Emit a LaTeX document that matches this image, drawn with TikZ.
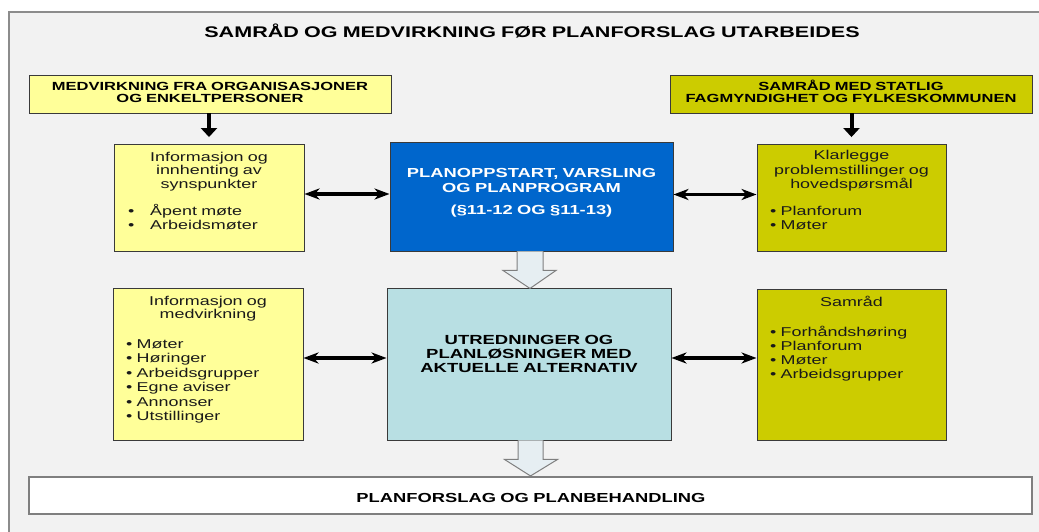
\documentclass[tikz,border=0pt]{standalone}
\usepackage{fontspec}
\setmainfont{Liberation Sans}[FakeStretch=1.4]
\usetikzlibrary{arrows.meta}

\definecolor{panelgray}{HTML}{F2F2F2}
\definecolor{panelline}{HTML}{8C8C8C}
\definecolor{paleyellow}{HTML}{FFFF99}
\definecolor{olivebox}{HTML}{CCCC00}
\definecolor{planblue}{HTML}{0066CC}
\definecolor{paleteal}{HTML}{B8DFE3}
\definecolor{arrowfill}{HTML}{E6EEF2}
\definecolor{arrowline}{HTML}{7F7F7F}
\definecolor{boxline}{HTML}{3A3A3A}
\definecolor{ink}{HTML}{1A1A1A}

\begin{document}
\begin{tikzpicture}[
  x=1pt, y=-1pt,
  box/.style={draw=boxline, line width=0.9pt, inner sep=0pt, minimum width=#1},
  ybox/.style={box=#1, fill=paleyellow},
  obox/.style={box=#1, fill=olivebox},
  txt/.style={inner sep=0pt, anchor=base, align=center, text width=#1, text=ink},
  list/.style={inner sep=0pt, anchor=base west, align=left, text width=#1, text=ink},
  body/.style={font=\fontsize{12.8}{14.2}\selectfont},
  head/.style={font=\bfseries\fontsize{11.8}{12}\selectfont, text=black},
  bighead/.style={font=\bfseries\fontsize{13.1}{14.2}\selectfont, text=black},
  down/.style={draw=black, line width=4pt, -{Triangle[length=9pt,width=16pt]}, shorten >=6.5pt},
  both/.style={draw=black, line width=3.2pt, {Stealth[length=15pt,width=11pt,inset=4.5pt]}-{Stealth[length=15pt,width=11pt,inset=4.5pt]}},
  blockfill/.style={fill=arrowfill},
  blockline/.style={draw=arrowline, line width=1pt, line join=miter},
]
\useasboundingbox (0,0) rectangle (1039,532);
\clip (0,0) rectangle (1039,532);
\fill[white] (0,0) rectangle (1039,532);

% grey panel behind the whole scheme
\draw[fill=panelgray, draw=panelline, line width=2pt] (9,12) rectangle (1060,560);

% heading
\node[txt=900pt, font=\bfseries\fontsize{15.4}{18}\selectfont, text=black] (title) at (532,37.7)
  {SAMRÅD OG MEDVIRKNING FØR PLANFORSLAG UTARBEIDES};

% top source boxes
\node[ybox=362pt, minimum height=38pt] (topL) at (210,94) {};
\node[txt=360pt, head] (topLt) at (210,90.7) {MEDVIRKNING FRA ORGANISASJONER\\OG ENKELTPERSONER};
\node[obox=362pt, minimum height=38pt] (topR) at (851,94) {};
\node[txt=360pt, head] (topRt) at (851,90.7) {SAMRÅD MED STATLIG\\FAGMYNDIGHET OG FYLKESKOMMUNEN};

% first row
\node[ybox=190pt, minimum height=107pt] (info1) at (209,197.5) {};
\node[txt=186pt, body, font=\fontsize{12.8}{13.6}\selectfont] (info1h) at (209,161)
  {Informasjon og\\innhenting av\\synspunkter};
\node[list=170pt, body] (info1l) at (128,215)
  {\makebox[22pt][l]{•}Åpent møte\\\makebox[22pt][l]{•}Arbeidsmøter};

\node[box=283pt, fill=planblue, minimum height=109pt] (plan) at (531.5,196.5) {};
\node[txt=280pt, bighead, text=white] (plant) at (531.5,178)
  {PLANOPPSTART, VARSLING\\OG PLANPROGRAM\\[8pt](§11-12 OG §11-13)};

\node[obox=189pt, minimum height=107pt] (klar) at (851.5,197.5) {};
\node[txt=186pt, body, font=\fontsize{12.8}{14.5}\selectfont] (klarh) at (851.5,160)
  {Klarlegge\\problemstillinger og\\hovedspørsmål};
\node[list=170pt, body] (klarl) at (770,215) {• Planforum\\• Møter};

% second row
\node[ybox=190pt, minimum height=152pt] (info2) at (208,364) {};
\node[txt=186pt, body, font=\fontsize{12.8}{13.4}\selectfont] (info2h) at (208,305)
  {Informasjon og\\medvirkning};
\node[list=170pt, body, font=\fontsize{12.8}{14.5}\selectfont] (info2l) at (126,348.3)
  {• Møter\\• Høringer\\• Arbeidsgrupper\\• Egne aviser\\• Annonser\\• Utstillinger};

\node[box=284pt, fill=paleteal, minimum height=152pt] (utred) at (529,364) {};
\node[txt=280pt, bighead, font=\bfseries\fontsize{13.2}{14.3}\selectfont] (utredt) at (529,344)
  {UTREDNINGER OG\\PLANLØSNINGER MED\\AKTUELLE ALTERNATIV};

\node[obox=189pt, minimum height=151pt] (samr) at (851.5,364.5) {};
\node[txt=186pt, body] (samrh) at (851.5,306.7) {Samråd};
\node[list=170pt, body, font=\fontsize{12.8}{14}\selectfont] (samrl) at (770,336)
  {• Forhåndshøring\\• Planforum\\• Møter\\• Arbeidsgrupper};

% result box
\node[draw=arrowline, line width=1.5pt, fill=white, minimum width=1003pt, minimum height=37pt, inner sep=0pt] (result) at (530.5,495.5) {};
\node[txt=900pt, bighead] (resultt) at (531,502.7) {PLANFORSLAG OG PLANBEHANDLING};

% input arrows
\draw[down] (topL.south -| info1.north) -- (info1.north);
\draw[down] (topR.south -| klar.north) -- (klar.north);

% two-way exchanges
\draw[both] ([yshift=3.5pt]info1.east) -- ([yshift=3.5pt]info1.east -| plan.west);
\draw[both] ([yshift=2pt]plan.east) -- ([yshift=2pt]plan.east -| klar.west);
\draw[both] ([yshift=6pt]info2.east) -- ([yshift=6pt]info2.east -| utred.west);
\draw[both] ([yshift=6pt]utred.east) -- ([yshift=6pt]utred.east -| samr.west);

% broad flow arrows between the main stages
\begin{scope}[shift={(plan.south)}, xshift=-1.5pt]
  \fill[blockfill] (-13,0) -- (-13,19) -- (-27,19) -- (0,37) -- (26,19) -- (13,19) -- (13,0) -- cycle;
  \draw[blockline] (-13,0) -- (-13,19) -- (-27,19) -- (0,37) -- (26,19) -- (13,19) -- (13,0);
\end{scope}
\begin{scope}[shift={(utred.south)}, xshift=1.5pt]
  \fill[blockfill] (-12.5,0) -- (-12.5,19) -- (-26,19) -- (0,35.5) -- (27,19) -- (12.5,19) -- (12.5,0) -- cycle;
  \draw[blockline] (-12.5,0) -- (-12.5,19) -- (-26,19) -- (0,35.5) -- (27,19) -- (12.5,19) -- (12.5,0);
\end{scope}
\end{tikzpicture}
\end{document}
